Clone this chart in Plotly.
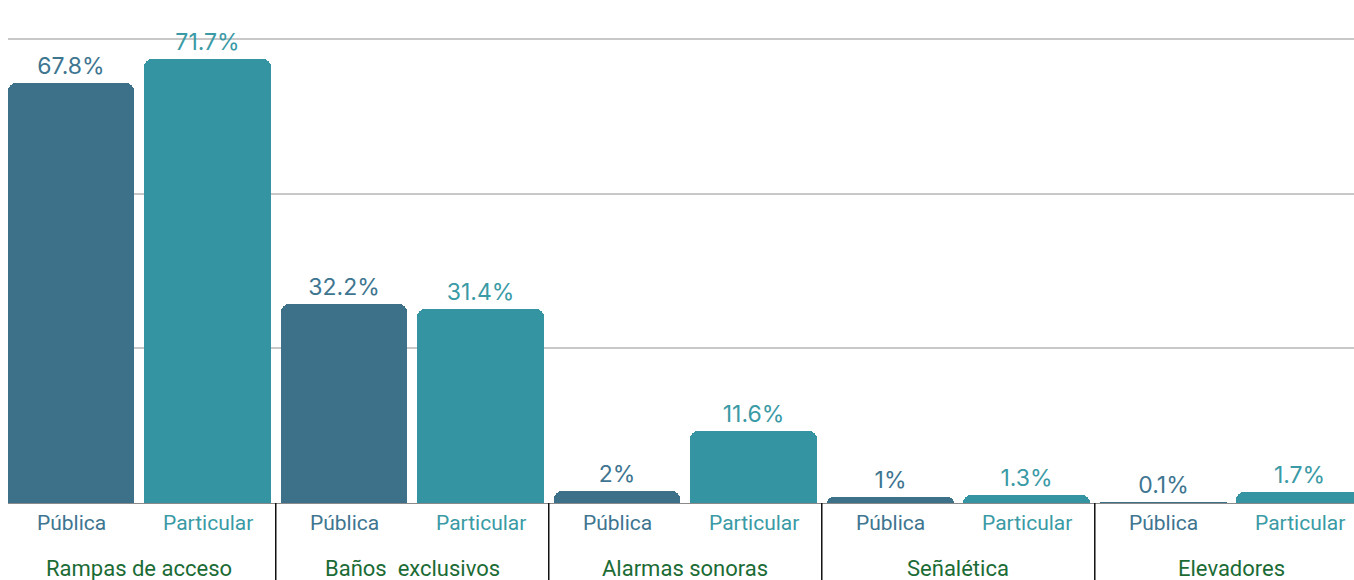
"""Accesibilidad en escuelas: pública vs particular."""

import plotly.graph_objects as go

categories = ["Rampas de acceso", "Baños  exclusivos", "Alarmas sonoras", "Señalética", "Elevadores"]
sectors = ["Pública", "Particular"]
publica = [67.8, 32.2, 2.0, 1.0, 0.1]
particular = [71.7, 31.4, 11.6, 1.3, 1.7]

colors = {"Pública": "#3d7189", "Particular": "#3594a1"}
label_colors = {"Pública": "#3e7590", "Particular": "#3a9aa5"}
cat_color = "#1b6b35"

H_PLOT = 495  # plot height in px (used to place labels below the axis)

fig = go.Figure()

for s_idx, (name, vals) in enumerate(zip(sectors, [publica, particular])):
    xs = [2 * i + s_idx for i in range(len(categories))]
    fig.add_trace(go.Bar(
        x=xs,
        y=vals,
        name=name,
        width=0.93,
        marker=dict(color=colors[name], cornerradius=8, line=dict(width=0)),
        text=[f"{v:g}%" for v in vals],
        textposition="outside",
        cliponaxis=False,
        textfont=dict(family="Inter", size=23, color=label_colors[name]),
    ))
    # sector labels under each bar
    for x in xs:
        fig.add_annotation(
            x=x, y=-20 / H_PLOT, xref="x", yref="paper",
            xanchor="center", yanchor="middle",
            text=name, showarrow=False,
            font=dict(family="Roboto", size=21, color=label_colors[name]),
        )

# category labels and group dividers
for i, cat in enumerate(categories):
    fig.add_annotation(
        x=2 * i + 0.5, y=-65 / H_PLOT, xref="x", yref="paper",
        xanchor="center", yanchor="middle",
        text=cat, showarrow=False,
        font=dict(family="Roboto", size=22, color=cat_color),
    )
    if i > 0:
        fig.add_shape(
            type="line", xref="x", yref="paper",
            x0=2 * i - 0.5, x1=2 * i - 0.5, y0=0, y1=-80 / H_PLOT,
            line=dict(color="#111111", width=1.5),
        )

fig.update_layout(
    width=1354,
    height=580,
    margin=dict(l=8, r=0, t=8, b=77),
    plot_bgcolor="white",
    paper_bgcolor="white",
    showlegend=False,
    bargap=0,
    xaxis=dict(
        range=[-0.4615, 9.399],
        showticklabels=False,
        showgrid=False,
        zeroline=False,
        showline=True,
        linecolor="#8a8a8a",
        linewidth=1,
        ticks="",
    ),
    yaxis=dict(
        range=[0, 80],
        tickvals=[25, 50, 75],
        showticklabels=False,
        gridcolor="#c8c8c8",
        gridwidth=2,
        zeroline=False,
    ),
)

fig.write_html(
    "out.html",
    config={"displayModeBar": False},
    post_script="document.body.style.margin = '0'; document.body.style.overflow = 'hidden';",
)
